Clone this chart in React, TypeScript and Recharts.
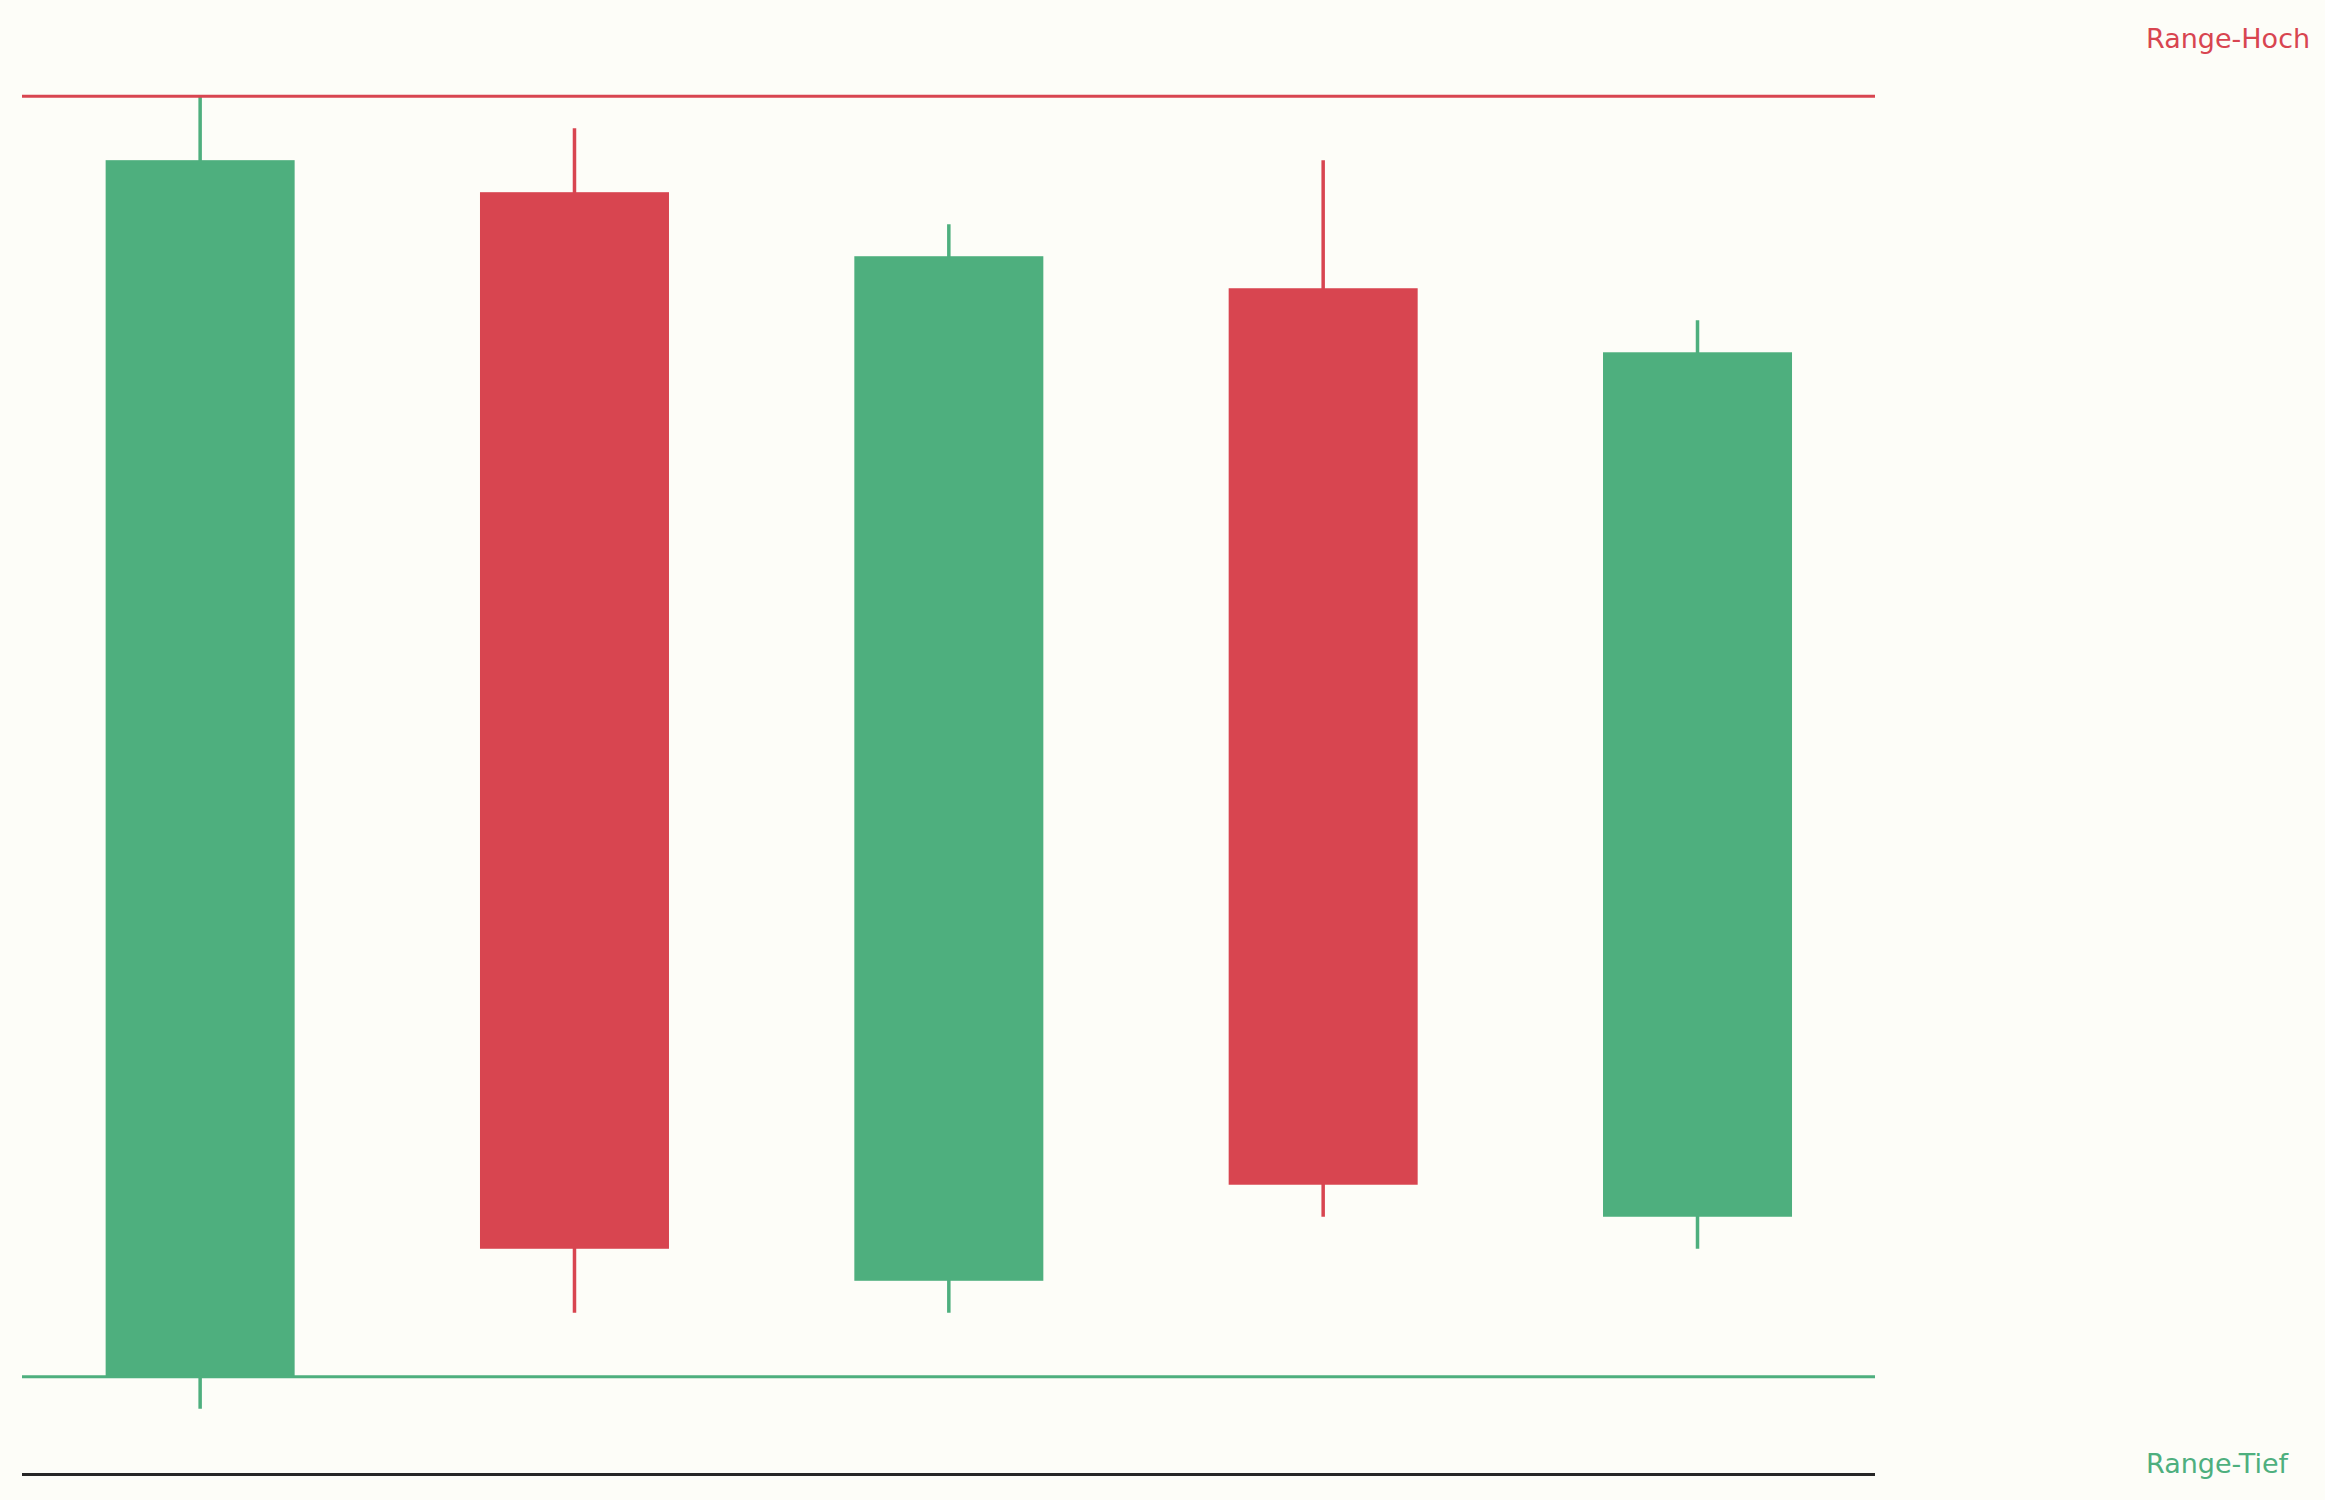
import { ComposedChart, Bar, XAxis, YAxis, ReferenceLine } from "recharts";

const sessions = [0, 1, 2, 3, 4];
const opens = [70, 107, 73, 104, 75];
const closes = [108, 74, 105, 76, 102];
const highs = [110, 109, 106, 108, 103];
const lows = [69, 72, 72, 75, 74];

const rangeHigh = 110;
const rangeLow = 70;
const rangeLabels = ["Range-Hoch", "Range-Tief"];

const UP = "#4eaf7e";
const DOWN = "#d84550";
const BG = "#fdfdf8";

const data = sessions.map((s, i) => ({
  x: s,
  open: opens[i],
  close: closes[i],
  high: highs[i],
  low: lows[i],
}));

const lo = Math.min(...lows);
const hi = Math.max(...highs);
const pad = (hi - lo) * 0.05;

function Candle(props: any) {
  const { x, y, width, height, payload } = props;
  const { open, close, high, low } = payload;
  const color = close >= open ? UP : DOWN;
  const top = Math.min(y, y + height);
  const h = Math.abs(height);
  const perUnit = h / (high - low);
  const bodyTop = top + (high - Math.max(open, close)) * perUnit;
  const bodyH = Math.abs(close - open) * perUnit;
  const cx = x + width / 2;
  return (
    <g>
      <line x1={cx} x2={cx} y1={top} y2={top + h} stroke={color} strokeWidth={3.5} />
      <rect x={x} y={bodyTop} width={width} height={bodyH} fill={color} />
    </g>
  );
}

export default function App() {
  return (
    <div style={{ position: "relative", width: 2325, height: 1500, background: BG }}>
      <style>{"body{margin:0;background:" + BG + "}"}</style>
      <ComposedChart
        width={2325}
        height={1500}
        data={data}
        margin={{ top: 30.5, right: 450, bottom: 24.5, left: 22 }}
      >
        <XAxis
          dataKey="x"
          type="number"
          domain={[-0.475, 4.475]}
          height={1}
          tick={false}
          tickLine={false}
          axisLine={{ stroke: "#262626", strokeWidth: 3 }}
        />
        <YAxis hide domain={[lo - pad, hi + pad]} />
        <Bar
          dataKey={(d: any) => [d.low, d.high]}
          barSize={189}
          shape={Candle}
          isAnimationActive={false}
        />
        <ReferenceLine y={rangeHigh} stroke={DOWN} strokeWidth={3} />
        <ReferenceLine y={rangeLow} stroke={UP} strokeWidth={3} />
      </ComposedChart>
      <svg
        width={2325}
        height={1500}
        style={{ position: "absolute", left: 0, top: 0, pointerEvents: "none" }}
      >
        <text x={2146} y={48} fill={DOWN} fontFamily="DejaVu Sans" fontSize={27}>
          {rangeLabels[0]}
        </text>
        <text x={2146} y={1473} fill={UP} fontFamily="DejaVu Sans" fontSize={27}>
          {rangeLabels[1]}
        </text>
      </svg>
    </div>
  );
}
